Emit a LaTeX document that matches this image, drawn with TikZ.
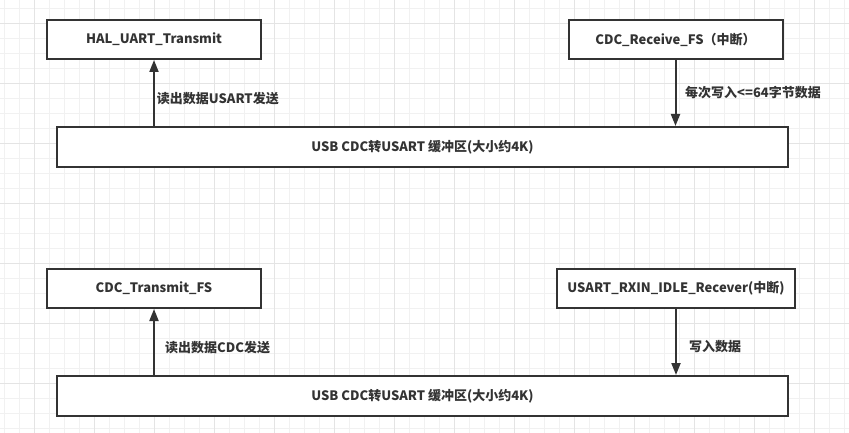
\documentclass[tikz,border=0pt]{standalone}
\usepackage{fontspec}
\setmainfont{Noto Sans CJK SC}
\usetikzlibrary{arrows.meta}
\definecolor{ink}{HTML}{333333}
\definecolor{gridminor}{HTML}{F1F1F1}
\definecolor{gridmajor}{HTML}{E4E4E4}
\tikzset{
  box/.style={draw=ink, line width=2pt, fill=white, text=ink, font=\fontsize{13}{15}\selectfont\bfseries, inner sep=0pt},
  conn/.style={draw=ink, line width=2pt, -{Triangle[length=12pt,width=9pt]}},
  lbl/.style={text=ink, font=\fontsize{13}{15}\selectfont\bfseries, inner sep=0pt, anchor=west}
}
\begin{document}
\begin{tikzpicture}[x=1pt,y=-1pt]
\useasboundingbox (0,0) rectangle (849,433);
\fill[white] (0,0) rectangle (849,433);
% grid
\foreach \i in {0,...,56} {\draw[gridminor, line width=1pt] (4.3+15*\i,0) -- (4.3+15*\i,433);}
\foreach \i in {0,...,28} {\draw[gridminor, line width=1pt] (0,8.3+15*\i) -- (849,8.3+15*\i);}
\foreach \i in {0,...,13} {\draw[gridmajor, line width=1pt] (34.3+60*\i,0) -- (34.3+60*\i,433);}
\foreach \i in {0,...,6} {\draw[gridmajor, line width=1pt] (0,23.3+60*\i) -- (849,23.3+60*\i);}
% upper part
\node[box, minimum width=214pt, minimum height=39pt] (hal) at (154,39.5) {HAL\_UART\_Transmit};
\node[box, minimum width=214pt, minimum height=39pt] (cdcrx) at (675.5,39.5) {CDC\_Receive\_FS（中断）};
\node[box, minimum width=731pt, minimum height=40pt] (buf1) at (422.5,147) {USB CDC转USART 缓冲区(大小约4K)};
\draw[conn] (buf1.north -| hal.south) -- (hal.south);
\draw[conn] (cdcrx.south) -- (buf1.north -| cdcrx.south);
\node[lbl] (l1) at (156.7,98.3) {读出数据USART发送};
\node[lbl] (l2) at (685,92.7) {每次写入<=64字节数据};
% lower part
\node[box, minimum width=214pt, minimum height=39pt] (cdctx) at (154,288.5) {CDC\_Transmit\_FS};
\node[box, minimum width=238pt, minimum height=39pt] (usartrx) at (676,288.5) {USART\_RXIN\_IDLE\_Recever(中断)};
\node[box, minimum width=731pt, minimum height=40pt] (buf2) at (422.5,396) {USB CDC转USART 缓冲区(大小约4K)};
\draw[conn] (buf2.north -| cdctx.south) -- (cdctx.south);
\draw[conn] (usartrx.south) -- (buf2.north -| usartrx.south);
\node[lbl] (l3) at (165,347.3) {读出数据CDC发送};
\node[lbl] (l4) at (689,346.7) {写入数据};
\end{tikzpicture}
\end{document}
